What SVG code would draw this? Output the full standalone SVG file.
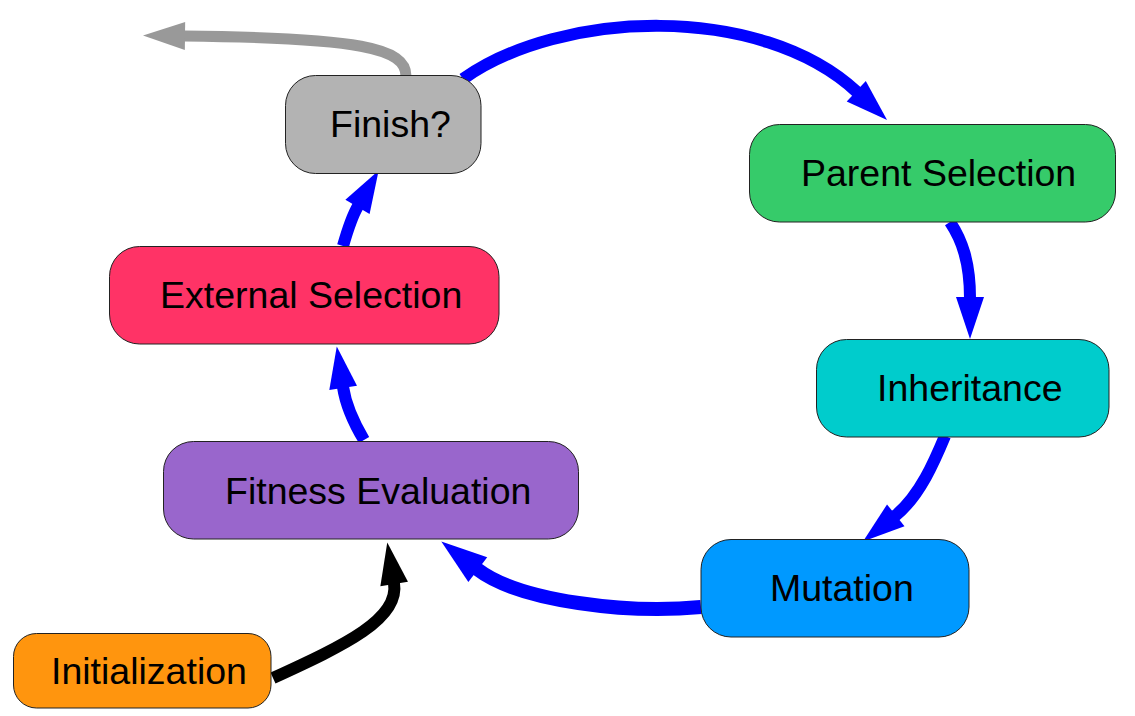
<svg xmlns="http://www.w3.org/2000/svg" width="1135" height="716" viewBox="0 0 1135 716">
  <style>
    .node rect { stroke: #222; stroke-width: 1; }
    .node text { font-family: "Liberation Sans", Arial, sans-serif; font-size: 37.5px; fill: #000; }
    .conn { fill: none; stroke-width: 12; stroke-linecap: butt; }
    .blue { stroke: #0000ff; marker-end: url(#ahBlue); }
    .blue-big { stroke: #0000ff; stroke-width: 14; marker-end: url(#ahBlueBig); }
    .black { stroke: #000; marker-end: url(#ahBlack); }
    .gray { stroke: #999999; stroke-width: 11; marker-end: url(#ahGray); }
  </style>
  <defs>
    <marker id="ahBlue" markerUnits="userSpaceOnUse" markerWidth="43" markerHeight="28" refX="1" refY="14" orient="auto" overflow="visible">
      <path d="M0,0 L42,14 L0,28 z" fill="#0000ff"/>
    </marker>
    <marker id="ahBlueBig" markerUnits="userSpaceOnUse" markerWidth="47" markerHeight="31" refX="1" refY="15.5" orient="auto" overflow="visible">
      <path d="M0,0 L46,15.5 L0,31 z" fill="#0000ff"/>
    </marker>
    <marker id="ahBlack" markerUnits="userSpaceOnUse" markerWidth="43" markerHeight="28" refX="1" refY="14" orient="auto" overflow="visible">
      <path d="M0,0 L42,14 L0,28 z" fill="#000"/>
    </marker>
    <marker id="ahGray" markerUnits="userSpaceOnUse" markerWidth="43" markerHeight="28" refX="1" refY="14" orient="auto" overflow="visible">
      <path d="M0,0 L42,14 L0,28 z" fill="#999999"/>
    </marker>
  </defs>
  <rect width="1135" height="716" fill="#ffffff"/>

  <g id="connectors">
    <path class="conn gray" d="M406,76 C406,48 360,38 184,36"/>
    <path class="conn blue" d="M463,79 C560,10 760,2 857,92"/>
    <path class="conn blue" d="M950,222 C962,240 970,262 970,298"/>
    <path class="conn blue" d="M945,436 C935,460 920,496 895,516"/>
    <path class="conn blue-big" d="M701,607 C630,614 520,602 477,569"/>
    <path class="conn blue" d="M364,440 C352,420 345,400 343,387"/>
    <path class="conn blue" d="M343,246 C347,232 351,218 358,206"/>
    <path class="conn black" d="M273,678 C345,645 400,619 394,583"/>
  </g>

  <g id="finish" class="node">
    <rect x="285.5" y="75.5" width="195.5" height="98" rx="30" fill="#b3b3b3"/>
    <text x="330" y="137">Finish?</text>
  </g>
  <g id="parent-selection" class="node">
    <rect x="749.5" y="124.5" width="366" height="97.5" rx="30" fill="#36cb6a"/>
    <text x="801" y="186">Parent Selection</text>
  </g>
  <g id="inheritance" class="node">
    <rect x="816.5" y="339.5" width="292.5" height="97.5" rx="30" fill="#00cccc"/>
    <text x="877" y="401">Inheritance</text>
  </g>
  <g id="mutation" class="node">
    <rect x="701" y="539.5" width="268" height="97.5" rx="30" fill="#0099ff"/>
    <text x="770" y="601">Mutation</text>
  </g>
  <g id="fitness-evaluation" class="node">
    <rect x="163.5" y="441.5" width="415" height="97.5" rx="30" fill="#9966cc"/>
    <text x="225" y="504">Fitness Evaluation</text>
  </g>
  <g id="external-selection" class="node">
    <rect x="109.5" y="246.5" width="389.5" height="97.5" rx="30" fill="#ff3366"/>
    <text x="160" y="308">External Selection</text>
  </g>
  <g id="initialization" class="node">
    <rect x="13.5" y="633.5" width="257.5" height="74.5" rx="23" fill="#ff950e"/>
    <text x="51" y="684">Initialization</text>
  </g>
</svg>
